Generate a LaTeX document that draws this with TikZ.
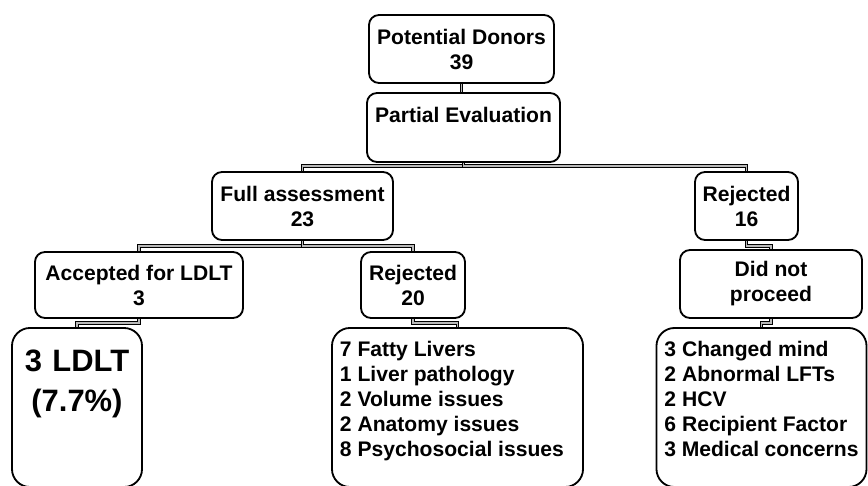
\documentclass[tikz,border=0pt]{standalone}
\usepackage{fontspec}
\setmainfont{Liberation Sans}
\usetikzlibrary{positioning}

\begin{document}
\begin{tikzpicture}[
            x=0.025cm, y=-0.025cm,
            box/.style={rectangle, draw, line width=1.3pt, rounded corners=0.25cm, align=center, inner sep=0pt, font=\fontsize{15}{17.8}\selectfont\bfseries, minimum height=1.7cm},
            listbox/.style={rectangle, draw, line width=1.3pt, rounded corners=0.45cm, align=flush left, inner xsep=0.2cm, inner ysep=0pt, font=\fontsize{15}{17.8}\selectfont\bfseries, minimum height=3.975cm},
            conn/.style={draw, line width=0.75pt, double=gray!55, double distance=0.9pt}
        ]
            \useasboundingbox (0,0) rectangle (868,486);

            % --- Top of the tree ---
            \node[box, minimum width=4.625cm] (donors) at (461.5,49) {Potential Donors\\39};
            \node[box, minimum width=4.825cm, minimum height=1.725cm] (partial) at (463.5,127.5) {Partial Evaluation\\\mbox{}};

            % --- Second level ---
            \node[box, minimum width=4.525cm] (full) at (302.5,206) {Full assessment\\23};
            \node[box, minimum width=2.575cm] (rej16) at (746.5,206) {Rejected\\16};

            % --- Third level ---
            \node[box, minimum width=5.2cm, minimum height=1.65cm] (accepted) at (139,285) {Accepted for LDLT\\3};
            \node[box, minimum width=2.6cm, minimum height=1.65cm] (rej20) at (413,285) {Rejected\\20};
            \node[box, minimum width=4.55cm] (dnp) at (771,284) {Did not\\proceed};

            % --- Outcomes ---
            \node[listbox, align=center, text width=2.85cm, font=\fontsize{22}{28}\selectfont\bfseries] (ldlt) at (77,407.5) {3 LDLT\\(7.7\%)\\[10pt]\mbox{}};
            \node[listbox, text width=5.875cm] (reasons20) at (457.5,407.5) {7 Fatty Livers\\1 Liver pathology\\2 Volume issues\\2 Anatomy issues\\8 Psychosocial issues\\[-6pt]\mbox{}};
            \node[listbox, text width=4.85cm] (reasons16) at (761.5,407.5) {3 Changed mind\\2 Abnormal LFTs\\2 HCV\\6 Recipient Factor\\3 Medical concerns\\[-6pt]\mbox{}};

            % --- Connectors ---
            \draw[conn] (donors.south) -- (donors.south |- partial.north);
            \draw[conn] (partial.south) -- ++(0,3) -| (full.north);
            \draw[conn] (partial.south) -- ++(0,3) -| (rej16.north);
            \draw[conn] (full.south) -- ++(0,5) -| (accepted.north);
            \draw[conn] (full.south) -- ++(0,5) -| (rej20.north);
            \draw[conn] (rej16.south) -- ++(0,5) -| (dnp.north);
            \draw[conn] (accepted.south) -- ++(0,4) -| (ldlt.north);
            \draw[conn] (rej20.south) -- ++(0,4) -| (reasons20.north);
            \draw[conn] (dnp.south) -- ++(0,4) -| (reasons16.north);

        \end{tikzpicture}
\end{document}
